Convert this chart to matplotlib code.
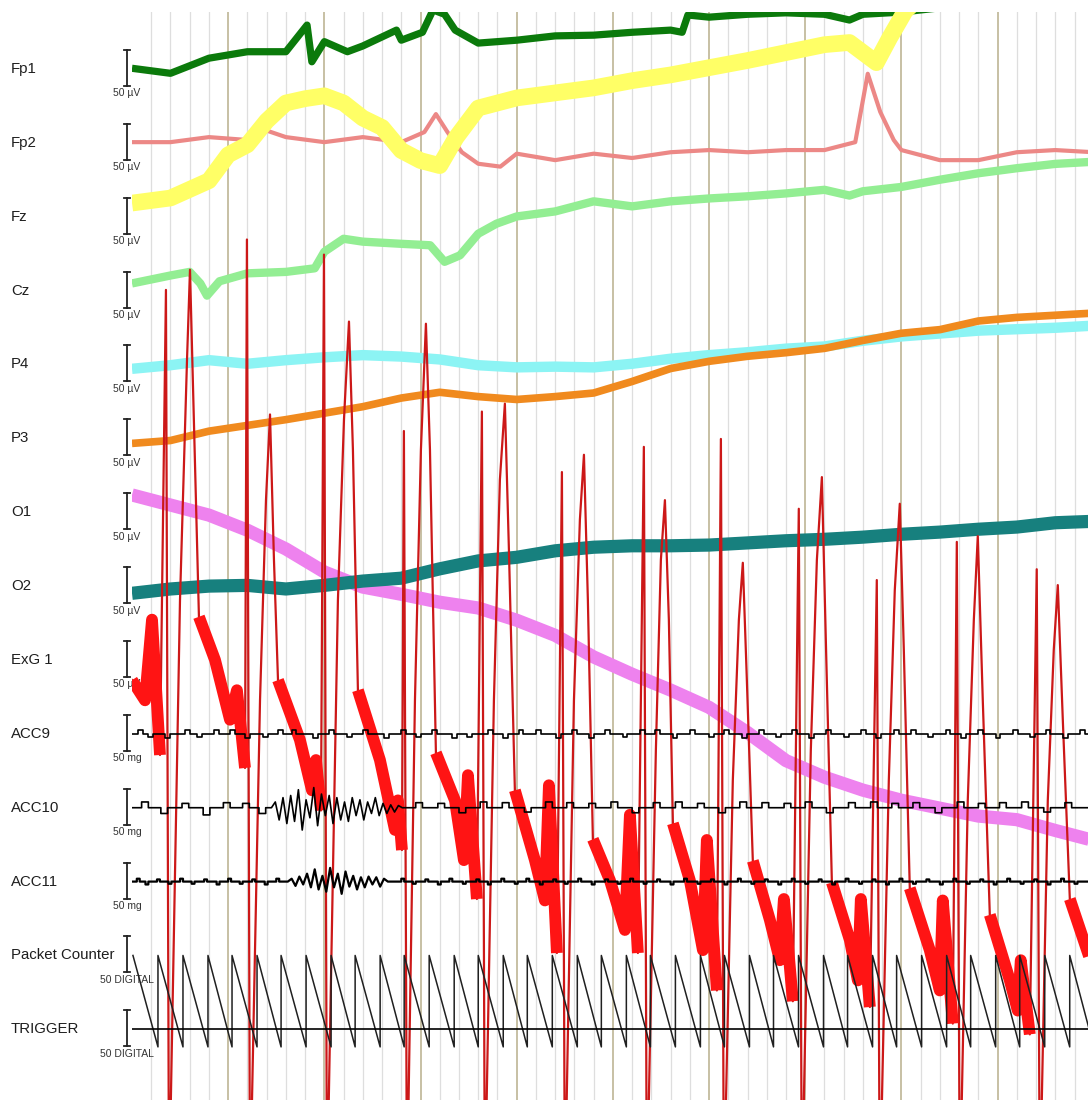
import numpy as np
import matplotlib
matplotlib.use("Agg")
import matplotlib.pyplot as plt
from matplotlib.transforms import Affine2D, blended_transform_factory

plt.rcParams['font.family'] = ['Liberation Sans', 'DejaVu Sans']

# ---------------------------------------------------------------- montage
channels = ["Fp1", "Fp2", "Fz", "Cz", "P4", "P3", "O1", "O2", "ExG 1",
            "ACC9", "ACC10", "ACC11", "Packet Counter", "TRIGGER"]
scale_labels = ["50 µV"] * 9 + ["50 mg"] * 3 + ["50 DIGITAL"] * 2

# ---------------------------------------------------------------- EEG (µV, negative up)
fp1_t = [0.0, 0.4, 0.8, 1.2, 1.6, 1.82, 1.87, 2.0, 2.24, 2.4, 2.75, 2.8, 3.02,
         3.13, 3.25, 3.36, 3.6, 4.0, 4.4, 4.8, 5.2, 5.6, 5.72, 5.78, 6.0, 6.4,
         6.8, 7.2, 7.46, 7.6, 8.0, 8.4, 8.8, 9.2, 9.6, 10.0]
fp1_v = [-1, 6, -15, -24, -24, -61, -10, -38, -24, -32, -54, -40, -51,
         -82, -76, -54, -36, -40, -46, -47, -51, -54, -51, -75, -72, -76,
         -78, -76, -68, -76, -79, -85, -89, -85, -88, -89]

fp2_t = [0.0, 0.4, 0.8, 1.2, 1.38, 1.6, 2.0, 2.4, 2.8, 3.04, 3.16, 3.28, 3.43,
         3.6, 3.83, 4.0, 4.4, 4.8, 5.2, 5.6, 6.0, 6.4, 6.8, 7.2, 7.52, 7.65,
         7.78, 7.92, 8.0, 8.4, 8.8, 9.2, 9.6, 10.0]
fp2_v = [-1, -1, -8, -4, -18, -8, -1, -8, -1, -15, -40, -15, 13,
         29, 33, 15, 24, 15, 21, 13, 10, 13, 10, 10, -1, -96,
         -43, -4, 10, 24, 24, 13, 10, 13]

fz_t = [0.0, 0.4, 0.8, 1.0, 1.2, 1.4, 1.6, 1.8, 2.0, 2.2, 2.4, 2.6, 2.8, 3.0,
        3.2, 3.37, 3.6, 4.0, 4.4, 4.8, 5.2, 5.6, 6.0, 6.4, 6.8, 7.2, 7.46,
        7.74, 7.88, 8.04, 8.3, 10.0]
fz_v = [-19, -26, -50, -86, -100, -133, -158, -164, -168, -158, -137, -124,
        -92, -78, -71, -110, -151, -165, -172, -179, -189, -197, -207, -217,
        -228, -239, -242, -214, -249, -286, -318, -381]

cz_t = [0.0, 0.4, 0.6, 0.71, 0.78, 0.91, 1.2, 1.6, 1.9, 2.0, 2.2, 2.4, 2.8,
        3.1, 3.25, 3.41, 3.6, 3.79, 4.0, 4.4, 4.8, 5.2, 5.6, 6.0, 6.4, 6.8,
        7.2, 7.46, 7.6, 8.0, 8.4, 8.8, 9.2, 9.6, 10.0]
cz_v = [-10, -21, -26, -10, 7, -13, -24, -26, -31, -54, -72, -68, -65,
        -63, -40, -49, -79, -93, -103, -110, -124, -117, -124, -128, -131,
        -135, -140, -132, -138, -144, -154, -163, -170, -176, -179]

# slow channels read every 0.4 s
trend_t = np.round(np.arange(26) * 0.4, 2)
p4_v = [6, 1, -6, -1, -6, -10, -13, -11, -7, 1, 4, 3, 4, -1, -8, -13, -17,
        -22, -25, -33, -39, -43, -47, -49, -51, -54]
p3_v = [7, 3, -10, -18, -26, -35, -44, -56, -64, -58, -54, -58, -63, -79,
        -97, -107, -114, -119, -125, -136, -146, -151, -163, -168, -171, -174]
o1_v = [-24, -10, 4, 25, 51, 83, 104, 114, 125, 133, 150, 171, 201, 225,
        247, 271, 306, 345, 368, 386, 400, 411, 422, 427, 442, 456]
o2_v = [10, 4, 0, -1, 4, -1, -7, -11, -24, -35, -40, -49, -54, -56, -56,
        -57, -60, -63, -65, -68, -72, -75, -79, -82, -88, -90]

# ---------------------------------------------------------------- ExG (µV)
exg_t = [0.000, 0.135, 0.208, 0.291,
         0.353, 0.385, 0.499, 0.572, 0.603, 0.655, 0.696,
         0.863, 1.019, 1.091, 1.175,
         1.195, 1.227, 1.331, 1.393, 1.435, 1.476, 1.518,
         1.746, 1.871, 1.913, 1.965,
         1.996, 2.027, 2.141, 2.204, 2.256, 2.297, 2.349,
         2.578, 2.734, 2.765, 2.807,
         2.827, 2.859, 2.942, 3.004, 3.056, 3.098, 3.160,
         3.358, 3.451, 3.493, 3.586,
         3.638, 3.669, 3.763, 3.825, 3.877, 3.919, 3.981,
         4.189, 4.293, 4.335, 4.418,
         4.470, 4.501, 4.595, 4.657, 4.699, 4.740, 4.792,
         4.969, 5.125, 5.177, 5.260,
         5.322, 5.353, 5.447, 5.499, 5.541, 5.582, 5.624,
         5.800, 5.936, 5.977, 6.081,
         6.123, 6.154, 6.247, 6.310, 6.351, 6.393, 6.455,
         6.632, 6.736, 6.778, 6.871,
         6.933, 6.965, 7.058, 7.121, 7.173, 7.214, 7.277,
         7.464, 7.547, 7.578, 7.672,
         7.744, 7.775, 7.869, 7.931, 7.983, 8.025, 8.087,
         8.295, 8.399, 8.430, 8.534,
         8.576, 8.607, 8.690, 8.753, 8.794, 8.846, 8.919,
         9.127, 9.210, 9.241, 9.335,
         9.407, 9.439, 9.522, 9.584, 9.626, 9.678, 9.751,
         10.000]
exg_v = [28, 56, -56, 132,
         -514, 750, -83, -417, -542, -270, -60,
         0, 83, 42, 150,
         -584, 750, 56, -222, -341, -139, 28,
         111, 181, 139, 209,
         -563, 750, -83, -334, -470, -292, 42,
         139, 236, 195, 264,
         -318, 750, 56, -292, -467, -292, 129,
         195, 278, 160, 332,
         -345, 750, 56, -250, -356, -153, 181,
         278, 334, 174, 407,
         -261, 750, 56, -195, -285, -83, 249,
         306, 375, 215, 407,
         -296, 750, 125, -139, -222, -56, 227,
         306, 403, 250, 459,
         -307, 750, 167, -56, -135, 28, 279,
         361, 417, 332, 474,
         -210, 750, 125, -139, -254, -28, 309,
         389, 445, 332, 482,
         -111, 750, 167, -97, -217, -14, 317,
         403, 459, 334, 505,
         -164, 750, 195, -56, -172, 56, 354,
         445, 487, 417, 520,
         -126, 750, 195, -14, -104, 83, 332,
         431]
# noisy stretches between beats
exg_band_start = [0.000, 0.696, 1.518, 2.349, 3.160, 3.981, 4.792, 5.624,
                  6.455, 7.277, 8.087, 8.919, 9.751]
exg_band_end = [0.291, 1.175, 1.965, 2.807, 3.586, 4.418, 5.260, 6.081,
                6.871, 7.672, 8.534, 9.335, 10.000]

# ---------------------------------------------------------------- accelerometer (mg)
acc9_bump_t = [0.06, 0.17, 0.34, 0.55, 0.68, 0.85, 1.02, 1.18, 1.36, 1.52,
               1.66, 1.88, 2.05, 2.24, 2.40, 2.62, 2.80, 2.95, 3.12, 3.33,
               3.48, 3.70, 3.86, 4.02, 4.20, 4.41, 4.58, 4.75, 4.92, 5.10,
               5.28, 5.44, 5.62, 5.80, 6.00, 6.16, 6.34, 6.52, 6.70, 6.86,
               7.04, 7.22, 7.40, 7.58, 7.74, 7.92, 8.10, 8.28, 8.46, 8.62,
               8.80, 8.98, 9.16, 9.34, 9.50, 9.68, 9.86]
acc9_bump_v = [-6, 5, 6, -6, 5, -5, -6, 6, 5, -6, -5, 6, -6, 5, -6, 6, -5,
               5, -6, 6, 5, -6, 6, -5, -6, 6, -5, 6, -6, 5, -6, -5, 6, -6,
               5, -6, 6, -6, 5, -5, 6, -6, 5, -6, 6, -5, -6, 5, -6, 6, -5,
               6, -6, 5, -6, 6, -5]

acc10_bump_t = [0.10, 0.30, 0.52, 0.74, 0.95, 1.15, 1.32, 2.95, 3.18, 3.40,
                3.62, 3.85, 4.08, 4.30, 4.52, 4.75, 4.98, 5.20, 5.42, 5.65,
                5.88, 6.10, 6.32, 6.55, 6.78, 7.00, 7.22, 7.45, 7.68, 7.90,
                8.12, 8.35, 8.58, 8.80, 9.02, 9.25, 9.48, 9.70]
acc10_bump_v = [-8, 8, -6, 10, -7, -6, 8, -7, -6, 7, -8, -7, 6, -8, -7,
                -6, -8, 7, -7, -8, -6, 7, -8, -7, -6, -8, 7, -7, -8, -6,
                -7, 7, -8, -6, -7, -8, 6, -7]
acc10_burst_t0 = 1.45
acc10_burst_v = [0, -8, 17, -14, 22, -17, 19, -25, 31, -11, 14, -28, 25,
                 -19, 11, -17, 22, -14, 17, -8, 19, -14, 11, -11, 17, -8, 8,
                 -14, 11, -6, 8, -4, 6, -3, 0]

acc11_bump_t = [0.05, 0.14, 0.26, 0.38, 0.50, 0.62, 0.75, 0.88, 1.00, 1.12,
                1.25, 1.38, 1.50, 2.80, 2.92, 3.05, 3.18, 3.30, 3.44, 3.58,
                3.70, 3.84, 3.98, 4.10, 4.24, 4.38, 4.50, 4.64, 4.78, 4.92,
                5.05, 5.18, 5.32, 5.46, 5.60, 5.74, 5.88, 6.02, 6.16, 6.30,
                6.44, 6.58, 6.72, 6.86, 7.00, 7.14, 7.28, 7.42, 7.56, 7.70,
                7.84, 7.98, 8.12, 8.26, 8.40, 8.54, 8.68, 8.82, 8.96, 9.10,
                9.24, 9.38, 9.52, 9.66, 9.80]
acc11_bump_v = [-4, 4, -3, 3, -4, 3, -3, 4, -4, 3, -3, 4, -4, -4, 3, -3,
                4, -4, 3, -3, 4, -4, 3, -4, 4, -3, 3, -4, 4, -3, 3, -4, 3,
                -3, 4, -4, 3, -3, 4, -4, 3, -3, 4, -4, 3, -3, 4, -4, 3, -3,
                4, -4, 3, -3, 4, -4, 3, -3, 4, -4, 3, -3, 4, -4, 3]
acc11_burst_t0 = 1.62
acc11_burst_v = [0, -4, 6, -7, 4, -11, 8, -17, 11, -8, 14, -19, 8, -11, 17,
                 -14, 7, -8, 11, -6, 8, -7, 4, -6, 7, -4, 0]
acc_burst_dt = 0.04

# ---------------------------------------------------------------- digital
pkt_resets = [0.01, 0.27, 0.53, 0.79, 1.04, 1.30, 1.55, 1.81, 2.07, 2.32,
              2.58, 2.83, 3.09, 3.35, 3.60, 3.86, 4.11, 4.37, 4.63, 4.88,
              5.14, 5.39, 5.65, 5.91, 6.16, 6.42, 6.67, 6.93, 7.19, 7.44,
              7.70, 7.95, 8.21, 8.47, 8.72, 8.98, 9.23, 9.49, 9.75, 10.00]
pkt_min, pkt_max = 0, 127
trigger_v = [0, 0]
trigger_t = [0.0, 10.0]

# ---------------------------------------------------------------- figure
W, H = 1088, 1100
fig = plt.figure(figsize=(W / 100, H / 100), dpi=100)
ax = fig.add_axes([132 / W, 0, (W - 132) / W, (H - 12) / H])
SPACING = 102.6       # display units between channel baselines
UNIT_PX = 0.72        # pixels per display unit (50 units -> 36 px)
ax.set_xlim(0, 9.94)
ax.set_ylim((H - 69) / UNIT_PX, -57 / UNIT_PX)
ax.axis('off')

# time grid: 0.2 s minor, 1 s major
for k in range(1, 50):
    tt = k * 0.2
    if k % 5 == 0:
        ax.axvline(tt, color='#c3bb9d', lw=1.3, zorder=0)
    else:
        ax.axvline(tt, color='#dedede', lw=0.9, zorder=0)


def off(i):
    return i * SPACING


def step_trace(bump_t, bump_v, width, burst_t0=None, burst_v=None):
    ts, vs = [0.0], [0.0]
    burst_end = None
    if burst_v is not None:
        burst_end = burst_t0 + acc_burst_dt * (len(burst_v) - 1)
    for bt, bv in zip(bump_t, bump_v):
        if burst_v is not None and burst_t0 - width < bt < burst_end:
            continue
        ts += [bt, bt, bt + width, bt + width]
        vs += [0, bv, bv, 0]
    if burst_v is not None:
        bt_arr = burst_t0 + acc_burst_dt * np.arange(len(burst_v))
        ts += list(bt_arr)
        vs += list(burst_v)
    order = np.argsort(np.array(ts), kind='stable')
    ts = np.array(ts)[order]
    vs = np.array(vs, dtype=float)[order]
    ts = np.append(ts, 10.0)
    vs = np.append(vs, 0.0)
    return ts, vs


traces = [
    (fp1_t, fp1_v, '#0b7a0b', 5.2),
    (fp2_t, fp2_v, '#ec8886', 3.0),
    (fz_t, fz_v, '#ffff66', 12.0),
    (cz_t, cz_v, '#93ee93', 6.0),
    (trend_t, p4_v, '#8cf4f4', 7.5),
    (trend_t, p3_v, '#f08a1e', 5.5),
    (trend_t, o1_v, '#ee82ee', 9.5),
    (trend_t, o2_v, '#17807e', 9.5),
]
for i, (t, v, c, lw) in enumerate(traces):
    ax.plot(t, off(i) + np.asarray(v, float), color=c, lw=lw,
            solid_joinstyle='round', solid_capstyle='butt', zorder=2 + i)

# ExG: thin trace plus the dense noisy stretches
et = np.asarray(exg_t)
ev = off(8) + np.asarray(exg_v, float)
ax.plot(et, ev, color='#cc1818', lw=1.6, zorder=12)
for s, e in zip(exg_band_start, exg_band_end):
    m = (et >= s - 1e-9) & (et <= e + 1e-9)
    ax.plot(et[m], ev[m], color='#ff1414', lw=8.5, solid_capstyle='butt',
            solid_joinstyle='round', zorder=13)

# accelerometer
a9t, a9v = step_trace(acc9_bump_t, acc9_bump_v, 0.05)
ax.plot(a9t, off(9) + a9v, color='black', lw=1.2, zorder=14)
a10t, a10v = step_trace(acc10_bump_t, acc10_bump_v, 0.07,
                        acc10_burst_t0, acc10_burst_v)
ax.plot(a10t, off(10) + a10v, color='black', lw=1.2, zorder=14)
a11t, a11v = step_trace(acc11_bump_t, acc11_bump_v, 0.03,
                        acc11_burst_t0, acc11_burst_v)
ax.plot(a11t, off(11) + a11v, color='black', lw=1.6, zorder=14)

# packet counter sawtooth
pt, pv = [], []
for r0, r1 in zip(pkt_resets[:-1], pkt_resets[1:]):
    pt += [r0, r1]
    pv += [pkt_min, pkt_max]
ax.plot(pt, off(12) + np.asarray(pv, float), color='#202020', lw=1.1, zorder=15)

# trigger
ax.plot(trigger_t, off(13) + np.asarray(trigger_v, float), color='black',
        lw=1.2, zorder=15)

# channel names and calibration bars
pix = Affine2D().scale(1.0 / W, 1.0 / H) + fig.transFigure
lab = blended_transform_factory(pix, ax.transData)
for i, (name, sl) in enumerate(zip(channels, scale_labels)):
    y0 = off(i)
    ax.text(11, y0, name, transform=lab, ha='left', va='center',
            fontsize=10.8, color='#1e1e1e', clip_on=False)
    top, bot = y0 - 26.4, y0 - 26.4 + 50
    ax.plot([127, 127], [top, bot], transform=lab, color='#222222',
            lw=1.3, clip_on=False)
    for yy in (top, bot):
        ax.plot([124, 130], [yy, yy], transform=lab, color='#222222',
                lw=1.3, clip_on=False)
    ax.text(127, y0 + 34, sl, transform=lab, ha='center', va='center',
            fontsize=7.5, color='#333333', clip_on=False)

fig.savefig('out.png', dpi=100)
